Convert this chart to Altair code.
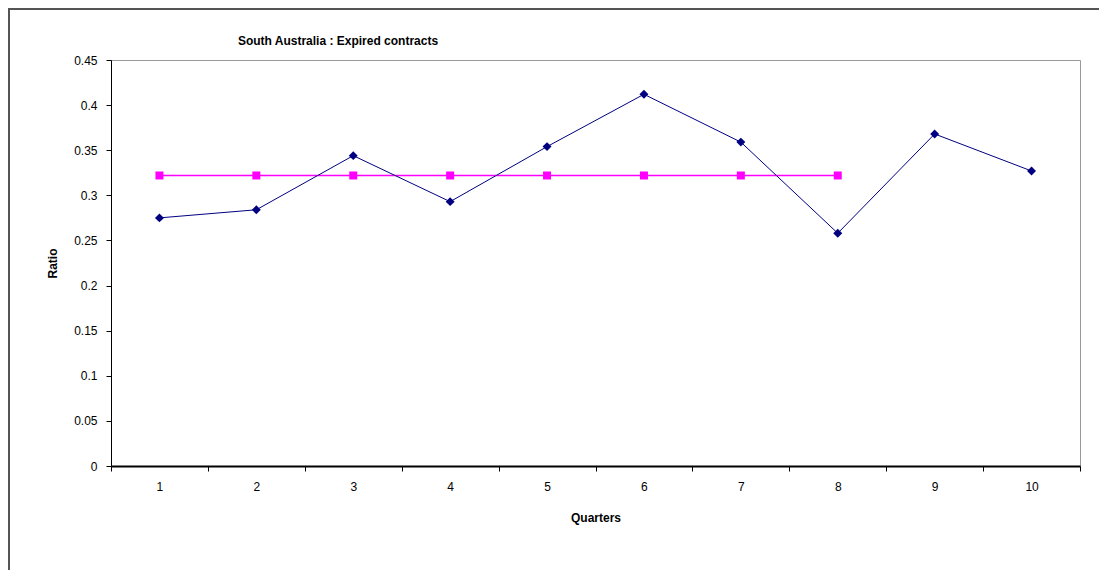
import altair as alt
import pandas as pd

# ---- data ----
quarters = [1, 2, 3, 4, 5, 6, 7, 8, 9, 10]
ratio = [0.275, 0.284, 0.344, 0.293, 0.354, 0.412, 0.359, 0.258, 0.368, 0.327]
avg_quarters = [1, 2, 3, 4, 5, 6, 7, 8]
avg_value = [0.322, 0.322, 0.322, 0.322, 0.322, 0.322, 0.322, 0.322]
y_ticks = [0, 0.05, 0.1, 0.15, 0.2, 0.25, 0.3, 0.35, 0.4, 0.45]
chart_title = "South Australia : Expired contracts"
x_title = "Quarters"
y_title = "Ratio"

W, H = 969, 406
PAD_L, PAD_T, PAD_R, PAD_B = 103, 52, 19, 104
FONT = "Liberation Sans"

df = pd.DataFrame({"quarter": quarters, "ratio": ratio})
avg_df = pd.DataFrame({"quarter": avg_quarters, "ratio": avg_value})
title_df = pd.DataFrame({"t": [chart_title]})
one = pd.DataFrame({"k": [0]})

x_enc = alt.X(
    "quarter:O",
    bandPosition=0.5,
    scale=alt.Scale(type="band", domain=quarters, paddingInner=0, paddingOuter=0),
    axis=alt.Axis(
        title=x_title,
        tickBand="extent",
        labelAngle=0,
        grid=False,
        domainColor="black",
        domainWidth=2,
        tickColor="black",
        tickSize=5,
        labelPadding=10,
        labelFont=FONT,
        labelFontSize=12,
        labelColor="black",
        titleFont=FONT,
        titleFontSize=12,
        titleFontWeight="bold",
        titleColor="black",
        titleY=51,
        titleBaseline="middle",
    ),
)

y_enc = alt.Y(
    "ratio:Q",
    scale=alt.Scale(domain=[0, 0.45], nice=False, zero=True),
    axis=alt.Axis(
        values=y_ticks,
        format=".2~f",
        title=y_title,
        grid=False,
        domainColor="black",
        domainWidth=1,
        tickColor="black",
        tickSize=5,
        labelPadding=9,
        labelFont=FONT,
        labelFontSize=12,
        labelColor="black",
        titleFont=FONT,
        titleFontSize=12,
        titleFontWeight="bold",
        titleColor="black",
        titleX=-59,
        titleY=H / 2,
        titleAngle=270,
        titleBaseline="middle",
    ),
)

avg_layer = alt.Chart(avg_df).mark_line(
    color="#FF00FF",
    strokeWidth=1.5,
    point=alt.OverlayMarkDef(shape="square", size=64, filled=True, color="#FF00FF", opacity=1),
).encode(x=x_enc, y=y_enc)

main_layer = alt.Chart(df).mark_line(
    color="#000080",
    strokeWidth=1,
    point=alt.OverlayMarkDef(shape="diamond", size=80, filled=True, color="#000080", opacity=1),
).encode(x=x_enc, y=y_enc)

title_layer = alt.Chart(title_df).mark_text(
    font=FONT, fontSize=12, fontWeight="bold", color="black", align="center", baseline="middle"
).encode(text="t:N", x=alt.value(227), y=alt.value(-19))

frame_top = alt.Chart(one).mark_rule(color="#555555", strokeWidth=2).encode(
    x=alt.value(-PAD_L), x2=alt.value(W + PAD_R), y=alt.value(-PAD_T + 1), y2=alt.value(-PAD_T + 1)
)
frame_left = alt.Chart(one).mark_rule(color="#555555", strokeWidth=2).encode(
    x=alt.value(-PAD_L + 1), x2=alt.value(-PAD_L + 1), y=alt.value(-PAD_T), y2=alt.value(H + PAD_B)
)

chart = (
    alt.layer(frame_top, frame_left, avg_layer, main_layer, title_layer)
    .properties(
        width=W,
        height=H,
        autosize=alt.AutoSizeParams(type="none"),
        padding={"left": PAD_L, "top": PAD_T, "right": PAD_R, "bottom": PAD_B},
        background="white",
    )
    .configure_view(stroke="#999999", strokeWidth=1)
)

chart.save("out.html", embed_options={"renderer": "svg", "actions": False})
